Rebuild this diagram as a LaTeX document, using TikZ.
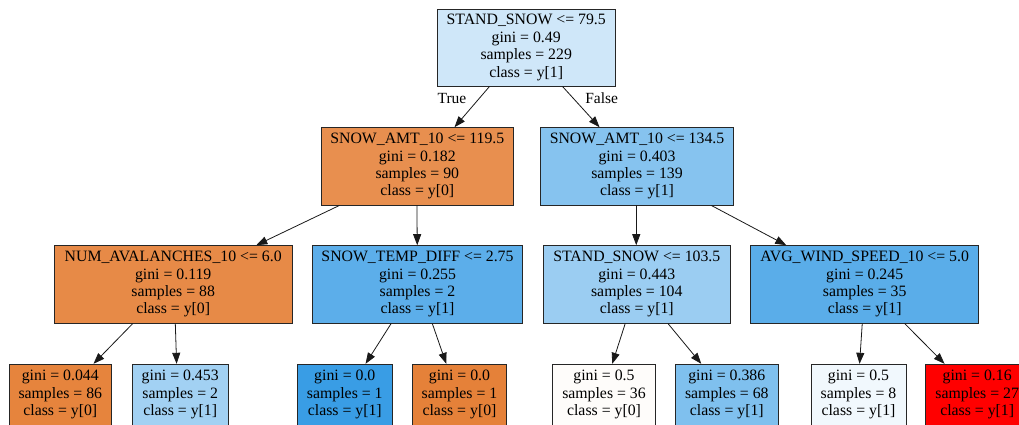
\documentclass[tikz,border=0pt]{standalone}
\usepackage{fontspec}
\setmainfont{Liberation Serif}
\usetikzlibrary{arrows.meta}
\definecolor{cRoot}{RGB}{207,231,249}
\definecolor{cLa}{RGB}{232,143,79}
\definecolor{cLb}{RGB}{134,195,239}
\definecolor{cNum}{RGB}{231,138,71}
\definecolor{cTemp}{RGB}{92,174,234}
\definecolor{cStand}{RGB}{155,205,242}
\definecolor{cWind}{RGB}{90,173,233}
\definecolor{cLf1}{RGB}{230,132,61}
\definecolor{cLf2}{RGB}{162,209,243}
\definecolor{cLf3}{RGB}{57,157,229}
\definecolor{cLf4}{RGB}{229,129,57}
\definecolor{cLf5}{RGB}{254,252,250}
\definecolor{cLf6}{RGB}{127,192,238}
\definecolor{cLf7}{RGB}{241,248,253}
\definecolor{cLf8}{RGB}{255,0,0}
\begin{document}
\begin{tikzpicture}[x=1pt,y=-1pt,
  treebox/.style={draw=black!85, line width=0.9pt, rectangle, inner sep=0pt, align=center,
    font=\fontsize{15.8}{17.4}\selectfont},
  inner4/.style={treebox, minimum height=77.3pt},
  leafbox/.style={treebox, minimum height=60.7pt},
  link/.style={draw=black!90, line width=0.8pt, -{Triangle[length=11pt,width=8pt]}},
  edgelabel/.style={inner sep=0pt, font=\fontsize{15.5}{17.3}\selectfont}]
\clip (0,0) rectangle (1019,424);
\fill[white] (0,0) rectangle (1019,424);

\node[inner4, fill=cRoot, minimum width=178.5pt, minimum height=77pt] (root) at (526.2,47.5)
  {STAND\_SNOW <= 79.5\\gini = 0.49\\samples = 229\\class = y[1]};

\node[inner4, fill=cLa, minimum width=192.7pt] (l2a) at (417.3,166.3)
  {SNOW\_AMT\_10 <= 119.5\\gini = 0.182\\samples = 90\\class = y[0]};
\node[inner4, fill=cLb, minimum width=192.6pt] (l2b) at (637,166.3)
  {SNOW\_AMT\_10 <= 134.5\\gini = 0.403\\samples = 139\\class = y[1]};

\node[inner4, fill=cNum, minimum width=237.7pt] (l3a) at (173.2,284.3)
  {NUM\_AVALANCHES\_10 <= 6.0\\gini = 0.119\\samples = 88\\class = y[0]};
\node[inner4, fill=cTemp, minimum width=210.4pt] (l3b) at (417.5,284.3)
  {SNOW\_TEMP\_DIFF <= 2.75\\gini = 0.255\\samples = 2\\class = y[1]};
\node[inner4, fill=cStand, minimum width=187pt] (l3c) at (636.8,284.3)
  {STAND\_SNOW <= 103.5\\gini = 0.443\\samples = 104\\class = y[1]};
\node[inner4, fill=cWind, minimum width=228pt] (l3d) at (864.7,284.3)
  {AVG\_WIND\_SPEED\_10 <= 5.0\\gini = 0.245\\samples = 35\\class = y[1]};

\node[leafbox, fill=cLf1, minimum width=102.7pt] (lf1) at (60.3,394.6)
  {gini = 0.044\\samples = 86\\class = y[0]};
\node[leafbox, fill=cLf2, minimum width=95.7pt] (lf2) at (180.2,394.6)
  {gini = 0.453\\samples = 2\\class = y[1]};
\node[leafbox, fill=cLf3, minimum width=95pt] (lf3) at (344.8,394.6)
  {gini = 0.0\\samples = 1\\class = y[1]};
\node[leafbox, fill=cLf4, minimum width=94.4pt] (lf4) at (459.5,394.6)
  {gini = 0.0\\samples = 1\\class = y[0]};
\node[leafbox, fill=cLf5, minimum width=103.4pt] (lf5) at (604,394.6)
  {gini = 0.5\\samples = 36\\class = y[0]};
\node[leafbox, fill=cLf6, minimum width=103pt] (lf6) at (726.8,394.6)
  {gini = 0.386\\samples = 68\\class = y[1]};
\node[leafbox, fill=cLf7, minimum width=95pt] (lf7) at (858.5,394.6)
  {gini = 0.5\\samples = 8\\class = y[1]};
\node[leafbox, fill=cLf8, minimum width=103pt] (lf8) at (977.2,394.6)
  {gini = 0.16\\samples = 27\\class = y[1]};

\draw[link] ([xshift=53pt]root.south west) -- ([xshift=134pt]l2a.north west);
\draw[link] ([xshift=126pt]root.south west) -- ([xshift=59.3pt]l2b.north west);
\node[edgelabel] (tlabel) at (452,98) {True};
\node[edgelabel] (flabel) at (601.7,98) {False};

\draw[link] ([xshift=19pt]l2a.south west) -- ([xshift=202.4pt]l3a.north west);
\draw[link] ([xshift=96.4pt]l2a.south west) -- ([xshift=105.4pt]l3b.north west);
\draw[link] ([xshift=96pt]l2b.south west) -- ([xshift=93.4pt]l3c.north west);
\draw[link] ([xshift=171pt]l2b.south west) -- ([xshift=36pt]l3d.north west);

\draw[link] ([xshift=79pt]l3a.south west) -- ([xshift=85pt]lf1.north west);
\draw[link] ([xshift=121.4pt]l3a.south west) -- ([xshift=44.7pt]lf2.north west);
\draw[link] ([xshift=79.4pt]l3b.south west) -- ([xshift=68.7pt]lf3.north west);
\draw[link] ([xshift=120.4pt]l3b.south west) -- ([xshift=34.4pt]lf4.north west);
\draw[link] ([xshift=82.4pt]l3c.south west) -- ([xshift=60.4pt]lf5.north west);
\draw[link] ([xshift=125pt]l3c.south west) -- ([xshift=26.4pt]lf6.north west);
\draw[link] ([xshift=112pt]l3d.south west) -- ([xshift=49pt]lf7.north west);
\draw[link] ([xshift=154.3pt]l3d.south west) -- ([xshift=19.3pt]lf8.north west);
\end{tikzpicture}
\end{document}
